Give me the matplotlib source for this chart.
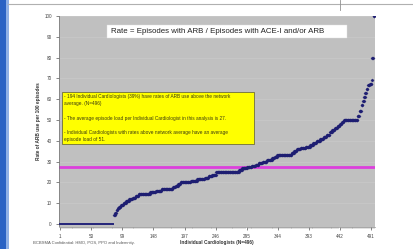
import numpy as np
import matplotlib
matplotlib.use("Agg")
import matplotlib.pyplot as plt
from matplotlib.patches import Rectangle

plt.rcParams['font.family'] = ['Liberation Sans', 'DejaVu Sans']

# ---- data: sorted rates as (level, number of cardiologists) ----
rate_levels = [0, 4.5, 5.5, 6.5, 7.5, 8.3, 9.1, 10.0, 11.0, 11.8, 12.5, 13.3, 14.3, 14.6,
               15.4, 16.0, 16.7, 17.6, 18.5, 19.3, 20.0, 20.8, 21.5, 22.2, 22.9, 23.7,
               25.0, 25.8, 26.7, 27.3, 28.0, 28.6, 29.4, 30.0, 30.8, 31.6, 32.4, 33.3,
               34.3, 35.1, 35.9, 36.5, 37.2, 38.1, 39.0, 40.0, 41.0, 42.0, 43.0, 44.0,
               45.0, 46.0, 47.0, 48.0, 49.0, 50.0, 52.0, 54.5, 57.0, 59.0, 61.0, 63.0,
               65.0, 66.7, 67.5, 69.0, 80.0, 100.0]
rate_counts = [85, 2, 2, 2, 2, 3, 4, 4, 5, 5, 5, 5, 5, 13,
               9, 9, 18, 4, 4, 4, 16, 10, 12, 6, 6, 6,
               36, 5, 8, 7, 6, 5, 6, 7, 8, 4, 4, 23,
               4, 4, 6, 8, 7, 5, 5, 6, 5, 5, 5, 4,
               4, 4, 4, 3, 3, 22, 3, 3, 2, 2, 2, 2,
               2, 3, 3, 1, 2, 2]
network_average = 27.6
x_ticks = [1, 50, 99, 148, 197, 246, 295, 344, 393, 442, 491]
y_ticks = [0, 10, 20, 30, 40, 50, 60, 70, 80, 90, 100]

title_text = "Rate = Episodes with ARB / Episodes with ACE-I and/or ARB"
note_lines = [
    "- 194 Individual Cardiologists (39%) have rates of ARB use above the network",
    "average. (N=496)",
    "- The average episode load per Individual Cardiologist in this analysis is 27.",
    "- Individual Cardiologists with rates above network average have an average",
    "episode load of 51.",
]
x_label = "Individual Cardiologists (N=496)"
y_label = "Rate of ARB use per 100 episodes"
footer = "BCBSMA Confidential: HMO, POS, PPO and Indemnity."

rates = np.repeat(rate_levels, rate_counts)
ranks = np.arange(1, len(rates) + 1)

W, H = 414, 249
fig = plt.figure(figsize=(W / 100, H / 100), dpi=100)
fig.patch.set_facecolor('white')

def fx(px):
    return px / W

def fy(py):
    return 1 - py / H

# slide decorations
fig.add_artist(Rectangle((0, 0), fx(6), 1, transform=fig.transFigure,
                         facecolor='#2a62c4', edgecolor='none', zorder=0))
fig.add_artist(Rectangle((fx(6), 0), fx(3), 1, transform=fig.transFigure,
                         facecolor='#8fb0e6', edgecolor='none', zorder=0))
fig.add_artist(plt.Line2D([fx(8), 1], [fy(4.5), fy(4.5)], transform=fig.transFigure,
                          color='#b0b0b0', lw=0.8))
fig.add_artist(plt.Line2D([fx(340), fx(340)], [fy(0), fy(10)], transform=fig.transFigure,
                          color='#909090', lw=0.6))

ax = fig.add_axes([fx(59.5), fy(226.5), fx(375) - fx(59.5), fy(16) - fy(226.5)])
ax.set_facecolor('#c0c0c0')
ax.set_xlim(0, 497)
ax.set_ylim(-1.2, 100)

for yv in y_ticks[1:]:
    ax.axhline(yv, color='#cbcbcb', lw=0.4, zorder=1)

ax.axhline(network_average, color='#dc3fdc', lw=2.0, zorder=2)

zero = rates == 0
ax.plot(ranks[zero], rates[zero], color='#24247a', lw=1.4, zorder=3)
ax.plot(ranks[~zero], rates[~zero], linestyle='none', marker='D', markersize=1.6,
        markerfacecolor='#1e1e72', markeredgecolor='#1e1e72', markeredgewidth=0.3, zorder=3)

ax.set_xticks(x_ticks)
ax.set_xticks(np.arange(1, 497, 3), minor=True)
ax.set_yticks(y_ticks)
ax.tick_params(axis='both', which='major', labelsize=3.3, colors='#555555', length=2.5,
               width=0.5, pad=3)
ax.tick_params(axis='x', which='minor', length=1.5, width=0.3, colors='#707070')
for lab in ax.get_xticklabels() + ax.get_yticklabels():
    lab.set_color('#444444')
for s in ['top', 'right']:
    ax.spines[s].set_visible(False)
ax.spines['left'].set_color('#707070')
ax.spines['left'].set_linewidth(0.5)
ax.spines['bottom'].set_color('#909090')
ax.spines['bottom'].set_linewidth(0.5)

# axis titles (placed in figure pixels)
fig.text(fx(217), fy(242), x_label, fontsize=3.4, fontweight='bold', color='#333333',
         ha='center', va='center')
fig.text(fx(39), fy(121), y_label, fontsize=3.4, fontweight='bold', color='#333333',
         ha='center', va='center', rotation=90)
fig.text(fx(33), fy(243), footer, fontsize=3.0, color='#555555', ha='left', va='center')

# title box
fig.add_artist(Rectangle((fx(107), fy(38.5)), fx(347) - fx(107), fy(25) - fy(38.5),
                         transform=fig.transFigure, facecolor='white',
                         edgecolor='#e0e0e0', lw=0.3, zorder=5))
fig.text(fx(111), fy(31.8), title_text, fontsize=5.7, color='#222222',
         ha='left', va='center', zorder=6)

# yellow note box
fig.add_artist(Rectangle((fx(62), fy(144)), fx(254) - fx(62), fy(92) - fy(144),
                         transform=fig.transFigure, facecolor='#ffff00',
                         edgecolor='#6e6e3a', lw=0.6, zorder=5))
note_y = [96, 103.5, 118, 132.5, 139.5]
for txt, yy in zip(note_lines, note_y):
    fig.text(fx(64), fy(yy), txt, fontsize=3.4, color='#3a3a10', ha='left', va='center',
             zorder=6)

fig.savefig('out.png', dpi=100, facecolor='white')
